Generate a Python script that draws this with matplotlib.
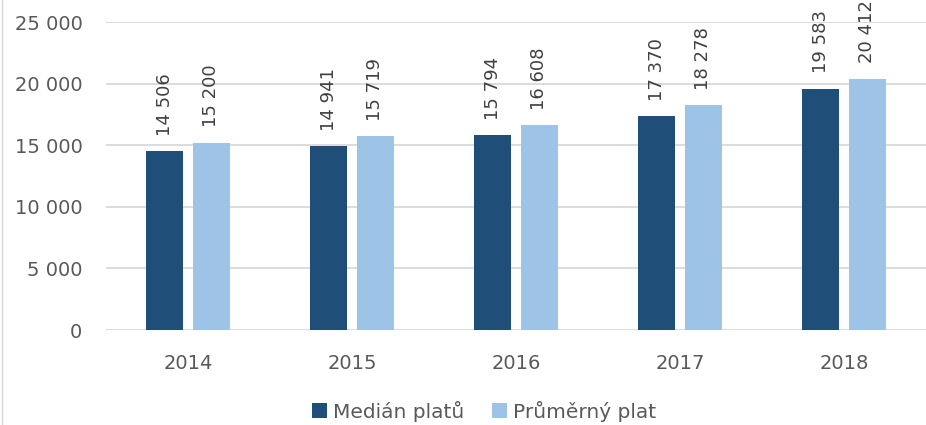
import numpy as np
import matplotlib.pyplot as plt
from matplotlib.lines import Line2D

# Data
years = ['2014', '2015', '2016', '2017', '2018']
median_pay = [14506, 14941, 15794, 17370, 19583]
mean_pay = [15200, 15719, 16608, 18278, 20412]
series_names = ['Medián platů', 'Průměrný plat']
y_ticks = [0, 5000, 10000, 15000, 20000, 25000]

dark_blue = '#1F4E79'
light_blue = '#9DC3E6'
text_grey = '#595959'

plt.rcParams['font.family'] = ['DejaVu Sans']


def fmt(v):
    return f'{v:,.0f}'.replace(',', ' ')


fig = plt.figure(figsize=(9.26, 4.25), dpi=100)
ax = fig.add_axes([106 / 926, 95 / 425, 820 / 926, 308 / 425])

x = np.arange(len(years))
width = 0.226
offset = 0.143

bars1 = ax.bar(x - offset, median_pay, width, color=dark_blue, label=series_names[0], zorder=3)
bars2 = ax.bar(x + offset, mean_pay, width, color=light_blue, label=series_names[1], zorder=3)

# Vertical value labels above bars
for bars in (bars1, bars2):
    for b in bars:
        ax.annotate(fmt(b.get_height()),
                    xy=(b.get_x() + b.get_width() / 2, b.get_height()),
                    xytext=(0, 11), textcoords='offset points',
                    rotation=90, ha='center', va='bottom',
                    fontsize=13, color='#404040', zorder=4)

ax.set_xlim(-0.5, len(years) - 0.5)
ax.set_ylim(0, 25000)
ax.set_yticks(y_ticks)
ax.set_yticklabels([fmt(v) for v in y_ticks])
ax.set_xticks(x)
ax.set_xticklabels(years)

ax.yaxis.grid(True, color='#D9D9D9', linewidth=1.3, zorder=0)
for s in ax.spines.values():
    s.set_visible(False)
ax.tick_params(axis='both', length=0, labelsize=14, colors=text_grey)
ax.tick_params(axis='y', pad=17)
ax.tick_params(axis='x', pad=17)

leg = ax.legend(loc='center', ncol=2, frameon=False,
                fontsize=14.5, labelcolor=text_grey, handlelength=0.75, handleheight=0.75,
                handletextpad=0.3, columnspacing=1.4)
leg.set_bbox_to_anchor((484 / 926, 14 / 425), transform=fig.transFigure)

# faint chart border on the left edge
fig.add_artist(Line2D([1.5 / 926, 1.5 / 926], [0, 1], color='#D9D9D9', linewidth=1))

fig.savefig('out.png', dpi=100)
